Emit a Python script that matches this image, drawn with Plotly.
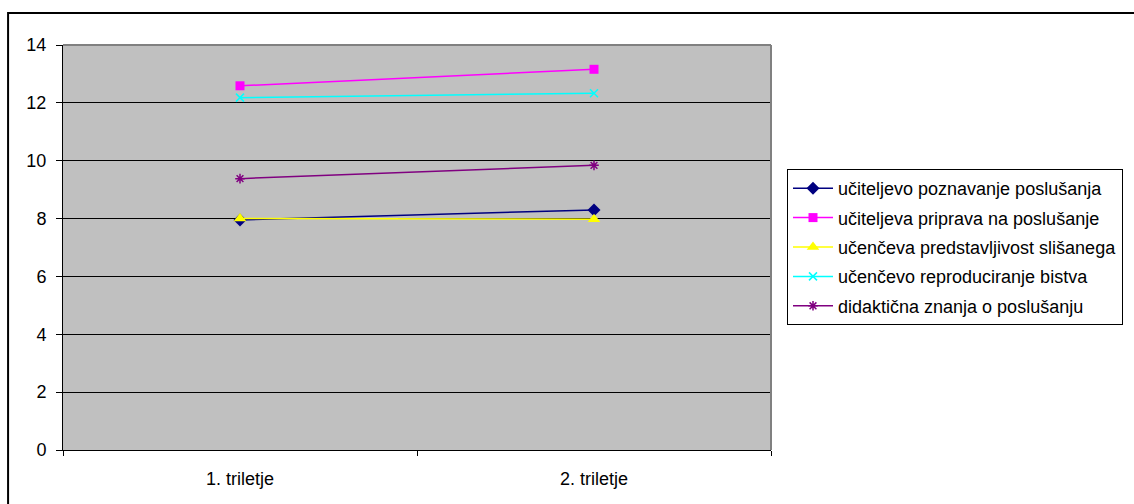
import plotly.graph_objects as go

categories = ["1. triletje", "2. triletje"]

poznavanje = [7.95, 8.30]
priprava = [12.59, 13.16]
predstavljivost = [8.00, 7.98]
reproduciranje = [12.18, 12.33]
didakticna = [9.38, 9.84]

series_names = [
    "učiteljevo poznavanje poslušanja",
    "učiteljeva priprava na poslušanje",
    "učenčeva predstavljivost slišanega",
    "učenčevo reproduciranje bistva",
    "didaktična znanja o poslušanju",
]
y_ticks = [0, 2, 4, 6, 8, 10, 12, 14]

styles = [
    dict(color="#000080", symbol="diamond", size=10, lw=0),
    dict(color="#FF00FF", symbol="square", size=9, lw=0),
    dict(color="#FFFF00", symbol="triangle-up", size=11, lw=0),
    dict(color="#00FFFF", symbol="x-thin-open", size=8, lw=1.5),
    dict(color="#800080", symbol="asterisk-open", size=8, lw=1.5),
]
values = [poznavanje, priprava, predstavljivost, reproduciranje, didakticna]

fig = go.Figure()
for i, (name, vals, st) in enumerate(zip(series_names, values, styles)):
    fig.add_trace(go.Scatter(
        x=categories, y=vals, name=name, mode="lines+markers",
        legendgroup=f"g{i}",
        line=dict(color=st["color"], width=1.5),
        marker=dict(symbol=st["symbol"], size=st["size"], color=st["color"],
                    line=dict(color=st["color"], width=st["lw"])),
    ))

L, R, T, B = 63, 362, 45, 54
W, H = 1134, 504
pw, ph = W - L - R, H - T - B

def px(x):
    return (x - L) / pw

def py(y):
    return (H - B - y) / ph

fig.update_layout(
    width=W, height=H,
    margin=dict(l=L, r=R, t=T, b=B),
    paper_bgcolor="white",
    plot_bgcolor="#C0C0C0",
    font=dict(family="Liberation Sans, Arial, sans-serif", size=18, color="black"),
    showlegend=True,
    legend=dict(
        x=px(787), y=py(169), xanchor="left", yanchor="top",
        bordercolor="black", borderwidth=1, bgcolor="white",
        font=dict(size=18), tracegroupgap=3, traceorder="grouped",
        itemwidth=40,
    ),
    xaxis=dict(
        type="category", range=[-0.5, 1.5], tickson="boundaries",
        showgrid=False, showline=True, linecolor="black", linewidth=1,
        ticks="outside", ticklen=5, tickcolor="black",
        ticklabelstandoff=12, zeroline=False,
    ),
    yaxis=dict(
        range=[0, 14], tickvals=y_ticks, showgrid=True, gridcolor="black",
        gridwidth=1, showline=True, linecolor="black", linewidth=1,
        ticks="outside", ticklen=6, tickcolor="black", zeroline=False,
        ticklabelstandoff=6,
    ),
    shapes=[
        # plot area frame (top and right edges)
        dict(type="line", xref="paper", yref="paper", x0=0, x1=1, y0=1, y1=1,
             line=dict(color="#808080", width=2)),
        dict(type="line", xref="paper", yref="paper", x0=1, x1=1, y0=0, y1=1,
             line=dict(color="#808080", width=2)),
        # chart border
        dict(type="rect", xref="paper", yref="paper",
             x0=px(8), x1=px(1145), y0=py(13), y1=py(515),
             line=dict(color="black", width=2), layer="below"),
    ],
)

fig.write_html("out.html")
